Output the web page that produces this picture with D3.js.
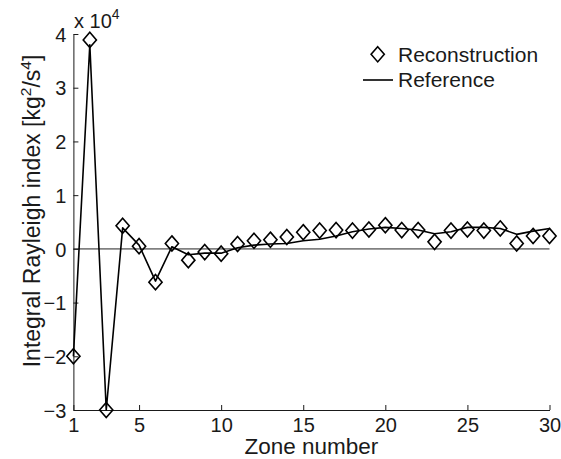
<!DOCTYPE html>
<html>
<head>
<meta charset="utf-8">
<script src="https://cdn.jsdelivr.net/npm/d3@7"></script>
<style>
  html, body { margin: 0; padding: 0; background: #fff; }
  svg { display: block; font-family: "Liberation Sans", Arial, Helvetica, sans-serif; }
</style>
</head>
<body>
<svg id="chart" width="561" height="459"></svg>
<script>
// Zone index along the combustor
const zones = d3.range(1, 31);
// Integral Rayleigh index, reconstructed from measurements [kg^2/s^4]
const reconstruction = [
  -20000, 38900, -30000, 4300, 500, -6200, 1000, -2100, -600, -900,
  900, 1500, 1700, 2200, 3100, 3400, 3500, 3400, 3600, 4400,
  3500, 3500, 1300, 3400, 3600, 3400, 3800, 1000, 2400, 2400
];
// Integral Rayleigh index, reference solution [kg^2/s^4]
const reference = [
  -20000, 38000, -30000, 3900, 700, -6000, 400, -1100, -800, -800,
  200, 700, 900, 1000, 1500, 1800, 2400, 3200, 3700, 4000,
  3800, 3500, 2800, 3200, 4000, 4000, 3800, 2700, 3300, 3800
];
const xTicks = [1, 5, 10, 15, 20, 25, 30];
const yTicks = [-30000, -20000, -10000, 0, 10000, 20000, 30000, 40000];

const svg = d3.select("#chart");
const plotLeft = 73.4, plotRight = 549.5, plotTop = 34, plotBottom = 410;

const x = d3.scaleLinear().domain([1, 30]).range([plotLeft, plotRight]);
const y = d3.scaleLinear().domain([-30000, 40000]).range([plotBottom, plotTop]);

const axisColor = "#1a1a1a";

// zero reference line
svg.append("line")
  .attr("x1", x(1)).attr("x2", x(30))
  .attr("y1", y(0)).attr("y2", y(0))
  .attr("stroke", "#808080").attr("stroke-width", 1.6);

// axes with inward ticks
const gx = svg.append("g")
  .attr("transform", `translate(0,${plotBottom})`)
  .call(d3.axisBottom(x).tickValues(xTicks).tickSizeInner(-5).tickSizeOuter(0).tickPadding(8)
    .tickFormat(d3.format("d")));
const gy = svg.append("g")
  .attr("transform", `translate(${plotLeft},0)`)
  .call(d3.axisLeft(y).tickValues(yTicks).tickSizeInner(-5).tickSizeOuter(0).tickPadding(7)
    .tickFormat(d => d3.format("d")(d / 10000)));

[gx, gy].forEach(g => {
  g.select(".domain").attr("stroke", axisColor).attr("stroke-width", 1);
  g.selectAll(".tick line").attr("stroke", axisColor).attr("stroke-width", 1);
  g.selectAll(".tick text").attr("fill", "#1a1a1a").attr("font-size", 20)
    .attr("font-family", "'Liberation Sans', Arial, sans-serif");
});
gy.selectAll(".tick text").attr("dy", "0.36em");

// exponent label
const exp = svg.append("text")
  .attr("x", 74).attr("y", 28)
  .attr("font-size", 20).attr("fill", "#1a1a1a");
exp.append("tspan").text("x 10");
exp.append("tspan").attr("font-size", 14).attr("dy", -9).text("4");

// reference line
const line = d3.line().x((d, i) => x(zones[i])).y(d => y(d));
svg.append("path")
  .datum(reference)
  .attr("d", line)
  .attr("fill", "none")
  .attr("stroke", "#000")
  .attr("stroke-width", 1.6)
  .attr("stroke-linejoin", "round");

// reconstruction markers (diamonds)
const hw = 6.6, hh = 7.6;
const diamond = `M0,${-hh}L${hw},0L0,${hh}L${-hw},0Z`;
svg.append("g").selectAll("path")
  .data(reconstruction)
  .join("path")
  .attr("transform", (d, i) => `translate(${x(zones[i])},${y(d)})`)
  .attr("d", diamond)
  .attr("fill", "none")
  .attr("stroke", "#000")
  .attr("stroke-width", 1.6);

// axis titles
svg.append("text")
  .attr("x", (plotLeft + plotRight) / 2).attr("y", 454)
  .attr("text-anchor", "middle")
  .attr("font-size", 22.5).attr("fill", "#1a1a1a")
  .text("Zone number");

const yl = svg.append("text")
  .attr("transform", "translate(40,211) rotate(-90)")
  .attr("text-anchor", "middle")
  .attr("font-size", 23).attr("fill", "#1a1a1a");
yl.append("tspan").text("Integral Rayleigh index [kg");
yl.append("tspan").attr("font-size", 15.5).attr("dy", -9).text("2");
yl.append("tspan").attr("dy", 9).text("/s");
yl.append("tspan").attr("font-size", 15.5).attr("dy", -9).text("4");
yl.append("tspan").attr("dy", 9).text("]");

// legend
const lg = svg.append("g");
lg.append("path")
  .attr("transform", "translate(377.7,54.3)")
  .attr("d", diamond)
  .attr("fill", "none").attr("stroke", "#000").attr("stroke-width", 1.6);
lg.append("text").attr("x", 398).attr("y", 61.5)
  .attr("font-size", 21).attr("fill", "#1a1a1a").text("Reconstruction");
lg.append("line")
  .attr("x1", 363).attr("x2", 393).attr("y1", 80).attr("y2", 80)
  .attr("stroke", "#000").attr("stroke-width", 1.6);
lg.append("text").attr("x", 398).attr("y", 87)
  .attr("font-size", 21).attr("fill", "#1a1a1a").text("Reference");
</script>
</body>
</html>
